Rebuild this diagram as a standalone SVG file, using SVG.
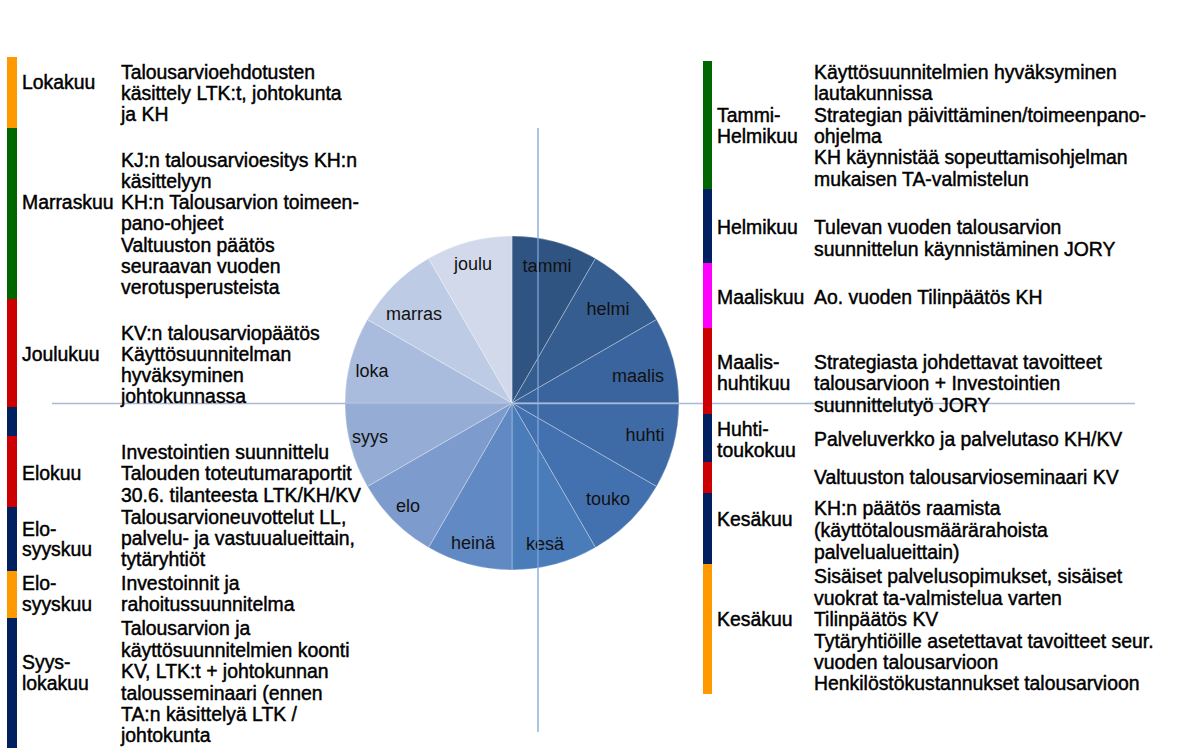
<svg xmlns="http://www.w3.org/2000/svg" width="1177" height="756" viewBox="0 0 1177 756">
<style>
text{font-family:"Liberation Sans",Arial,sans-serif;fill:#000}
.t{font-size:19.4px;stroke:#000;stroke-width:0.45}
.p{font-size:18px;text-anchor:middle;fill:#111}
.s path{stroke:#ffffff;stroke-width:0.6;stroke-opacity:0.5}
.or{fill:#FF9900}.gr{fill:#006600}.rd{fill:#CC0000}.nv{fill:#002060}.mg{fill:#FF00FF}
</style>
<rect width="1177" height="756" fill="#ffffff"/>
<g id="pie" class="s">
<path d="M512,403 L512,236 A167,167 0 0 1 595.5,258.4 Z" fill="#2F5481"/>
<path d="M512,403 L595.5,258.4 A167,167 0 0 1 656.6,319.5 Z" fill="#355D90"/>
<path d="M512,403 L656.6,319.5 A167,167 0 0 1 679,403 Z" fill="#3A649D"/>
<path d="M512,403 L679,403 A167,167 0 0 1 656.6,486.5 Z" fill="#3E6AA6"/>
<path d="M512,403 L656.6,486.5 A167,167 0 0 1 595.5,547.6 Z" fill="#4371AF"/>
<path d="M512,403 L595.5,547.6 A167,167 0 0 1 512,570 Z" fill="#4A7CBA"/>
<path d="M512,403 L512,570 A167,167 0 0 1 428.5,547.6 Z" fill="#6189C3"/>
<path d="M512,403 L428.5,547.6 A167,167 0 0 1 367.4,486.5 Z" fill="#7D9BCC"/>
<path d="M512,403 L367.4,486.5 A167,167 0 0 1 345,403 Z" fill="#95ACD5"/>
<path d="M512,403 L345,403 A167,167 0 0 1 367.4,319.5 Z" fill="#AABCDD"/>
<path d="M512,403 L367.4,319.5 A167,167 0 0 1 428.5,258.4 Z" fill="#BECBE4"/>
<path d="M512,403 L428.5,258.4 A167,167 0 0 1 512,236 Z" fill="#D2D9EA"/>
<text class="p" x="547" y="272">tammi</text>
<text class="p" x="608" y="315">helmi</text>
<text class="p" x="638" y="382">maalis</text>
<text class="p" x="645" y="441">huhti</text>
<text class="p" x="608" y="505">touko</text>
<text class="p" x="545" y="550">kesä</text>
<text class="p" x="473" y="549">heinä</text>
<text class="p" x="408" y="512">elo</text>
<text class="p" x="370" y="443">syys</text>
<text class="p" x="372" y="377">loka</text>
<text class="p" x="414" y="320">marras</text>
<text class="p" x="473" y="270">joulu</text>
</g>
<g id="connectors">
<line x1="538" y1="128" x2="538" y2="732" stroke="#7FA3D9" stroke-width="1.3"/>
<line x1="52" y1="403.5" x2="1135" y2="403.5" stroke="#A9B9D7" stroke-width="1.5"/>
</g>
<g id="left-bar">
<rect class="or" x="7" y="57" width="10" height="71"/>
<rect class="gr" x="7" y="128" width="10" height="171"/>
<rect class="rd" x="7" y="299" width="10" height="108"/>
<rect class="nv" x="7" y="407" width="10" height="29"/>
<rect class="rd" x="7" y="436" width="10" height="71"/>
<rect class="nv" x="7" y="507" width="10" height="64"/>
<rect class="or" x="7" y="571" width="10" height="47"/>
<rect class="nv" x="7" y="618" width="10" height="130"/>
</g>
<g id="right-bar">
<rect class="gr" x="703" y="61" width="9" height="128"/>
<rect class="nv" x="703" y="189" width="9" height="74"/>
<rect class="mg" x="703" y="263" width="9" height="65"/>
<rect class="rd" x="703" y="328" width="9" height="86"/>
<rect class="nv" x="703" y="414" width="9" height="48"/>
<rect class="rd" x="703" y="462" width="9" height="31"/>
<rect class="nv" x="703" y="493" width="9" height="71"/>
<rect class="or" x="703" y="564" width="9" height="130"/>
</g>
<g id="lokakuu" class="t">
<text x="22" y="89">Lokakuu</text>
<text x="121" y="79">Talousarvioehdotusten</text>
<text x="121" y="100">käsittely LTK:t, johtokunta</text>
<text x="121" y="121">ja KH</text>
</g>
<g id="marraskuu" class="t">
<text x="22" y="209">Marraskuu</text>
<text x="121" y="167">KJ:n talousarvioesitys KH:n</text>
<text x="121" y="188">käsittelyyn</text>
<text x="121" y="209">KH:n Talousarvion toimeen-</text>
<text x="121" y="230">pano-ohjeet</text>
<text x="121" y="251.5">Valtuuston päätös</text>
<text x="121" y="272.5">seuraavan vuoden</text>
<text x="121" y="293.5">verotusperusteista</text>
</g>
<g id="joulukuu" class="t">
<text x="22" y="361">Joulukuu</text>
<text x="121" y="339.5">KV:n talousarviopäätös</text>
<text x="121" y="360.5">Käyttösuunnitelman</text>
<text x="121" y="381.5">hyväksyminen</text>
<text x="121" y="402.5">johtokunnassa</text>
</g>
<g id="elokuu" class="t">
<text x="22" y="480">Elokuu</text>
<text x="121" y="459">Investointien suunnittelu</text>
<text x="121" y="480">Talouden toteutumaraportit</text>
<text x="121" y="501.5">30.6. tilanteesta LTK/KH/KV</text>
</g>
<g id="elo-syyskuu-1" class="t">
<text x="22" y="535.5">Elo-</text>
<text x="22" y="556">syyskuu</text>
<text x="121" y="524">Talousarvioneuvottelut LL,</text>
<text x="121" y="545">palvelu- ja vastuualueittain,</text>
<text x="121" y="566">tytäryhtiöt</text>
</g>
<g id="elo-syyskuu-2" class="t">
<text x="22" y="590">Elo-</text>
<text x="22" y="611">syyskuu</text>
<text x="121" y="590">Investoinnit ja</text>
<text x="121" y="611">rahoitussuunnitelma</text>
</g>
<g id="syys-lokakuu" class="t">
<text x="22" y="669">Syys-</text>
<text x="22" y="689.5">lokakuu</text>
<text x="121" y="635">Talousarvion ja</text>
<text x="121" y="656.5">käyttösuunnitelmien koonti</text>
<text x="121" y="678">KV, LTK:t + johtokunnan</text>
<text x="121" y="699.5">talousseminaari (ennen</text>
<text x="121" y="721">TA:n käsittelyä LTK /</text>
<text x="121" y="742">johtokunta</text>
</g>
<g id="tammi-helmikuu" class="t">
<text x="717" y="122">Tammi-</text>
<text x="717" y="143">Helmikuu</text>
<text x="814" y="79">Käyttösuunnitelmien hyväksyminen</text>
<text x="814" y="100">lautakunnissa</text>
<text x="814" y="121.5">Strategian päivittäminen/toimeenpano-</text>
<text x="814" y="142.5">ohjelma</text>
<text x="814" y="164">KH käynnistää sopeuttamisohjelman</text>
<text x="814" y="185.5">mukaisen TA-valmistelun</text>
</g>
<g id="helmikuu" class="t">
<text x="717" y="234">Helmikuu</text>
<text x="814" y="234">Tulevan vuoden talousarvion</text>
<text x="814" y="256">suunnittelun käynnistäminen JORY</text>
</g>
<g id="maaliskuu" class="t">
<text x="717" y="303.5">Maaliskuu</text>
<text x="814" y="303.5">Ao. vuoden Tilinpäätös KH</text>
</g>
<g id="maalis-huhtikuu" class="t">
<text x="717" y="368.5">Maalis-</text>
<text x="717" y="390">huhtikuu</text>
<text x="814" y="368.5">Strategiasta johdettavat tavoitteet</text>
<text x="814" y="390">talousarvioon + Investointien</text>
<text x="814" y="411.5">suunnittelutyö JORY</text>
</g>
<g id="huhti-toukokuu" class="t">
<text x="717" y="436">Huhti-</text>
<text x="717" y="457">toukokuu</text>
<text x="814" y="446">Palveluverkko ja palvelutaso KH/KV</text>
</g>
<g id="valtuusto" class="t">
<text x="814" y="483.5">Valtuuston talousarvioseminaari KV</text>
</g>
<g id="kesakuu-1" class="t">
<text x="717" y="526">Kesäkuu</text>
<text x="814" y="515">KH:n päätös raamista</text>
<text x="814" y="537">(käyttötalousmäärärahoista</text>
<text x="814" y="558.5">palvelualueittain)</text>
</g>
<g id="kesakuu-2" class="t">
<text x="717" y="626">Kesäkuu</text>
<text x="814" y="583">Sisäiset palvelusopimukset, sisäiset</text>
<text x="814" y="604.5">vuokrat ta-valmistelua varten</text>
<text x="814" y="626">Tilinpäätös KV</text>
<text x="814" y="647.5">Tytäryhtiöille asetettavat tavoitteet seur.</text>
<text x="814" y="669">vuoden talousarvioon</text>
<text x="814" y="690">Henkilöstökustannukset talousarvioon</text>
</g>
</svg>
